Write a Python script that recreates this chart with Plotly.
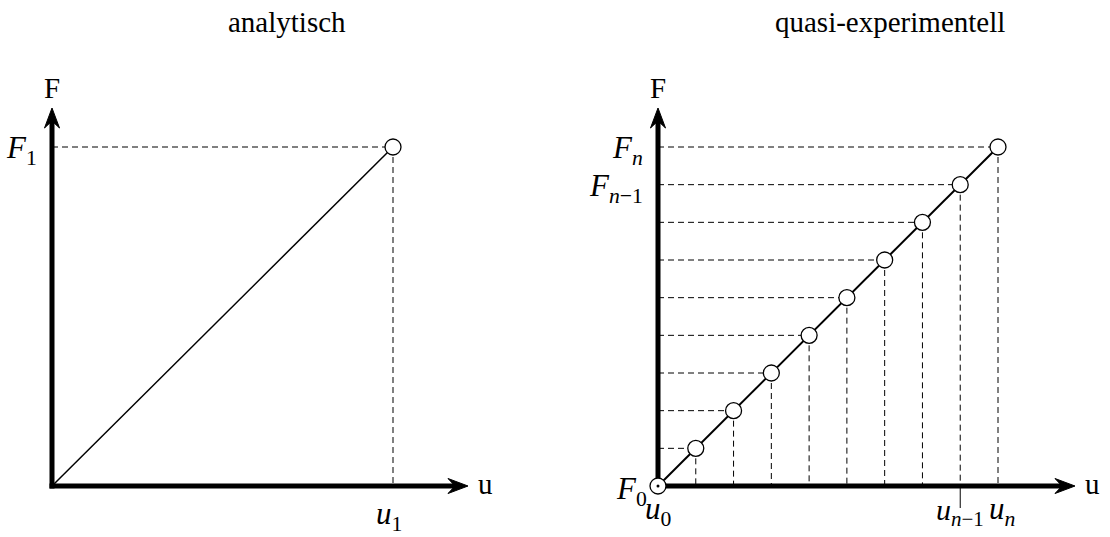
import plotly.graph_objects as go

# Analytical panel: one linear load path from the origin to (u1, F1)
analytic_u = [0.0, 1.0]
analytic_F = [0.0, 1.0]

# Quasi-experimental panel: load increments u0..un / F0..Fn (n = 9)
step_u = [0, 1, 2, 3, 4, 5, 6, 7, 8, 9]
step_F = [0, 1, 2, 3, 4, 5, 6, 7, 8, 9]

titles = ["analytisch", "quasi-experimentell"]
axis_names = ["u", "F"]
analytic_labels = {"F": "<i>F</i><sub>1</sub>", "u": "<i>u</i><sub>1</sub>"}
step_labels = {
    "F0": "<i>F</i><sub>0</sub>",
    "Fn1": "<i>F</i><sub><i>n</i>−1</sub>",
    "Fn": "<i>F</i><sub><i>n</i></sub>",
    "u0": "<i>u</i><sub>0</sub>",
    "un1": "<i>u</i><sub><i>n</i>−1</sub>",
    "un": "<i>u</i><sub><i>n</i></sub>",
}

W, H = 1110, 537
FONT = "Liberation Serif"
FS = 29
MATH_FS = 31
AXIS_W = 5
DASH = "6px,4px"


def axis_range(d0, d1, p0, p1, v0, v1, flip=False):
    """Return a data range so that value v0 sits at pixel p0 and v1 at p1."""
    if flip:
        s = (p0 - p1) / (v1 - v0)
        return [v0 - (d1 - p0) / s, v0 + (p0 - d0) / s], s
    s = (p1 - p0) / (v1 - v0)
    return [v0 - (p0 - d0) / s, v0 + (d1 - p0) / s], s


# pixel anchors of the two coordinate systems
lx_rng, lxs = axis_range(0, W / 2, 52, 393, 0, analytic_u[-1])
ly_rng, lys = axis_range(0, H, 486, 147, 0, analytic_F[-1], flip=True)
rx_rng, rxs = axis_range(W / 2, W, 658, 998, 0, step_u[-1])
ry_rng, rys = axis_range(0, H, 486, 147, 0, step_F[-1], flip=True)

fig = go.Figure()
shapes = []
annotations = []


def arrow_axes(xr, yr, xs, ys, xtip_px, ytip_px):
    """Thick axis lines with stealth arrow heads, lengths given in pixels."""
    L, Wh, N = 20, 15, 13
    ext = AXIS_W / 2
    xt = xtip_px / xs
    yt = ytip_px / ys
    line = dict(color="black", width=AXIS_W)
    shapes.append(dict(type="line", xref=xr, yref=yr, x0=-ext / xs, y0=0,
                       x1=xt - N / xs, y1=0, line=line, layer="below"))
    shapes.append(dict(type="line", xref=xr, yref=yr, x0=0, y0=-ext / ys,
                       x1=0, y1=yt - N / ys, line=line, layer="below"))
    hx = (f"M{xt},0 L{xt - L / xs},{Wh / 2 / ys} L{xt - N / xs},0 "
          f"L{xt - L / xs},{-Wh / 2 / ys} Z")
    hy = (f"M0,{yt} L{Wh / 2 / xs},{yt - L / ys} L0,{yt - N / ys} "
          f"L{-Wh / 2 / xs},{yt - L / ys} Z")
    for p in (hx, hy):
        shapes.append(dict(type="path", xref=xr, yref=yr, path=p, layer="below",
                           fillcolor="black", line=dict(color="black", width=1)))
    return xt, yt


def label(xr, yr, x, y, text, xanchor="center", yanchor="middle", dx=0, dy=0, size=MATH_FS):
    annotations.append(dict(xref=xr, yref=yr, x=x, y=y, text=text, showarrow=False,
                            xanchor=xanchor, yanchor=yanchor, xshift=dx, yshift=dy,
                            font=dict(family=FONT, size=size, color="black")))


def guides(xs_list, ys_list, xr, yr):
    gx, gy = [], []
    for u, f in zip(xs_list, ys_list):
        gx += [0, u, None, u, u, None]
        gy += [f, f, None, f, 0, None]
    fig.add_trace(go.Scatter(x=gx, y=gy, mode="lines", xaxis=xr, yaxis=yr,
                             line=dict(color="black", width=1, dash=DASH),
                             hoverinfo="skip", showlegend=False))


# ---- left panel: analytical solution ----
guides(analytic_u[1:], analytic_F[1:], "x", "y")
fig.add_trace(go.Scatter(x=analytic_u, y=analytic_F, mode="lines", xaxis="x", yaxis="y",
                         line=dict(color="black", width=1.5), showlegend=False))
fig.add_trace(go.Scatter(x=analytic_u[1:], y=analytic_F[1:], mode="markers",
                         xaxis="x", yaxis="y", showlegend=False,
                         marker=dict(size=16, color="white", line=dict(color="black", width=1.3))))
lxt, lyt = arrow_axes("x", "y", lxs, lys, 416, 378)
label("x", "y", lxt, 0, axis_names[0], xanchor="left", dx=8, dy=2, size=FS)
label("x", "y", 0, lyt, axis_names[1], yanchor="bottom", dy=2, size=FS)
label("x", "y", 0, analytic_F[-1], analytic_labels["F"], xanchor="right", dx=-13, dy=-3)
label("x", "y", analytic_u[-1], 0, analytic_labels["u"], yanchor="top", dx=-4, dy=-8)

# ---- right panel: quasi-experimental increments ----
guides(step_u[1:], step_F[1:], "x2", "y2")
fig.add_trace(go.Scatter(x=[step_u[-2], step_u[-2]], y=[0, -22 / rys], mode="lines",
                         xaxis="x2", yaxis="y2", line=dict(color="black", width=1),
                         showlegend=False))
fig.add_trace(go.Scatter(x=step_u, y=step_F, mode="lines", xaxis="x2", yaxis="y2",
                         line=dict(color="black", width=2), showlegend=False))
fig.add_trace(go.Scatter(x=step_u, y=step_F, mode="markers", xaxis="x2", yaxis="y2",
                         showlegend=False,
                         marker=dict(size=16, color="white", line=dict(color="black", width=1.3))))
fig.add_trace(go.Scatter(x=step_u[:1], y=step_F[:1], mode="markers", xaxis="x2", yaxis="y2",
                         showlegend=False, marker=dict(size=3, color="black")))
rxt, ryt = arrow_axes("x2", "y2", rxs, rys, 417, 378)
label("x2", "y2", rxt, 0, axis_names[0], xanchor="left", dx=8, dy=2, size=FS)
label("x2", "y2", 0, ryt, axis_names[1], yanchor="bottom", dy=2, size=FS)
label("x2", "y2", 0, step_F[-1], step_labels["Fn"], xanchor="right", dx=-13, dy=-3)
label("x2", "y2", 0, step_F[-2], step_labels["Fn1"], xanchor="right", dx=-13, dy=-3)
label("x2", "y2", 0, step_F[0], step_labels["F0"], xanchor="right", dx=-9, dy=-5)
label("x2", "y2", step_u[0], 0, step_labels["u0"], yanchor="top", dy=-3)
label("x2", "y2", step_u[-2], 0, step_labels["un1"], yanchor="top", dy=-5, size=30)
label("x2", "y2", step_u[-1], 0, step_labels["un"], yanchor="top", dy=-3, dx=4)

# ---- titles ----
for t, cx in zip(titles, [287, 890]):
    annotations.append(dict(xref="paper", yref="paper", x=cx / W, y=1 - 22 / H, text=t,
                            showarrow=False, xanchor="center", yanchor="middle",
                            font=dict(family=FONT, size=FS, color="black")))

hidden = dict(visible=False, fixedrange=True)
fig.update_layout(
    width=W, height=H, margin=dict(l=0, r=0, t=0, b=0),
    paper_bgcolor="white", plot_bgcolor="white", showlegend=False,
    xaxis=dict(domain=[0, 0.5], range=lx_rng, **hidden),
    yaxis=dict(domain=[0, 1], range=ly_rng, anchor="x", **hidden),
    xaxis2=dict(domain=[0.5, 1], range=rx_rng, anchor="y2", **hidden),
    yaxis2=dict(domain=[0, 1], range=ry_rng, anchor="x2", **hidden),
    shapes=shapes, annotations=annotations,
)

fig.write_html("out.html")
